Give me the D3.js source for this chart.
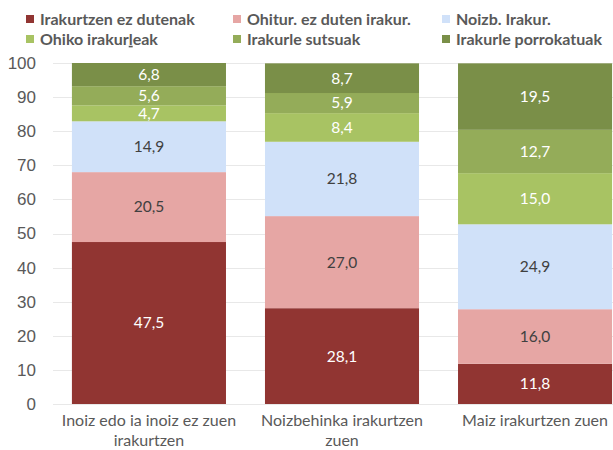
<!DOCTYPE html>
<html>
<head>
<meta charset="utf-8">
<script src="https://cdn.jsdelivr.net/npm/d3@7"></script>
<style>
  body { margin: 0; background: #fff; }
  svg { display: block; }
</style>
</head>
<body>
<svg id="chart" width="613" height="450"></svg>
<script>
// categories (x axis), split into lines as in the original
const categories = ["Inoiz edo ia inoiz ez zuen irakurtzen", "Noizbehinka irakurtzen zuen", "Maiz irakurtzen zuen"];
const categoryLines = [["Inoiz edo ia inoiz ez zuen", "irakurtzen"], ["Noizbehinka irakurtzen", "zuen"], ["Maiz irakurtzen zuen"]];

// series, bottom to top
const seriesNames = ["Irakurtzen ez dutenak", "Ohitur. ez duten irakur.", "Noizb. Irakur.", "Ohiko irakurleak", "Irakurle sutsuak", "Irakurle porrokatuak"];
const irakurtzenEz = [47.5, 28.1, 11.8];
const ohiturEz = [20.5, 27.0, 16.0];
const noizb = [14.9, 21.8, 24.9];
const ohiko = [4.7, 8.4, 15.0];
const sutsuak = [5.6, 5.9, 12.7];
const porrokatuak = [6.8, 8.7, 19.5];

const yTicks = [0, 10, 20, 30, 40, 50, 60, 70, 80, 90, 100];

const colors = ["#913532", "#e6a6a4", "#d0e1f9", "#a8c363", "#94ac59", "#7a8f48"];
const labelColors = ["#fff", "#404040", "#404040", "#fff", "#fff", "#fff"];

const seriesValues = [irakurtzenEz, ohiturEz, noizb, ohiko, sutsuak, porrokatuak];
const table = categories.map((c, i) => {
  const row = { category: c };
  seriesNames.forEach((s, j) => { row[s] = seriesValues[j][i]; });
  return row;
});

const svg = d3.select("#chart");
const W = 613;

const x = d3.scaleBand()
  .domain(categories)
  .range([53, 631])
  .paddingInner(0.202)
  .paddingOuter(0.098);

const y = d3.scaleLinear()
  .domain([0, 100])
  .range([404, 63]);

// gridlines
svg.append("g")
  .selectAll("line")
  .data(yTicks)
  .join("line")
  .attr("x1", 53)
  .attr("x2", W)
  .attr("y1", (d) => Math.round(y(d)) + 0.5)
  .attr("y2", (d) => Math.round(y(d)) + 0.5)
  .attr("stroke", "#e8e8e8")
  .attr("stroke-width", 1);

// y axis labels
const yAxis = svg.append("g")
  .attr("transform", "translate(36,0)")
  .call(d3.axisLeft(y).tickValues(yTicks).tickSize(0).tickPadding(0));
yAxis.select(".domain").remove();
yAxis.selectAll("text")
  .attr("font-family", "'Liberation Sans', Arial, sans-serif")
  .attr("font-size", 17)
  .attr("fill", "#595959");

const stacked = d3.stack().keys(seriesNames)(table);

const layer = svg.append("g")
  .selectAll("g")
  .data(stacked)
  .join("g")
  .attr("fill", (d, i) => colors[i]);

layer.selectAll("rect")
  .data((d) => d)
  .join("rect")
  .attr("x", (d) => x(d.data.category))
  .attr("width", x.bandwidth())
  .attr("y", (d) => y(d[1]))
  .attr("height", (d) => y(d[0]) - y(d[1]));

// value labels
const fmt = (v) => v.toFixed(1).replace(".", ",");
svg.append("g")
  .selectAll("g")
  .data(stacked)
  .join("g")
  .attr("fill", (d, i) => labelColors[i])
  .selectAll("text")
  .data((d) => d.map((p) => ({ p, key: d.key })))
  .join("text")
  .attr("x", (d) => x(d.p.data.category) + x.bandwidth() / 2)
  .attr("y", (d) => (y(d.p[0]) + y(d.p[1])) / 2)
  .attr("dy", "0.35em")
  .attr("text-anchor", "middle")
  .attr("font-family", "Lato, 'Open Sans', sans-serif")
  .attr("font-size", 15.5)
  .text((d) => fmt(d.p.data[d.key]));

// category labels
const cat = svg.append("g")
  .selectAll("text")
  .data(categories)
  .join("text")
  .attr("x", (d) => x(d) + x.bandwidth() / 2)
  .attr("y", 426)
  .attr("text-anchor", "middle")
  .attr("font-family", "Lato, 'Open Sans', sans-serif")
  .attr("font-size", 16)
  .attr("fill", "#595959");
cat.selectAll("tspan")
  .data((d, i) => categoryLines[i])
  .join("tspan")
  .attr("x", function () { return d3.select(this.parentNode).attr("x"); })
  .attr("dy", (d, i) => (i === 0 ? 0 : 20))
  .text((d) => d);

// legend: 3 columns x 2 rows
const legendX = [26, 233, 442];
const legendY = [19, 39];
const legend = svg.append("g")
  .selectAll("g")
  .data(seriesNames)
  .join("g")
  .attr("transform", (d, i) => `translate(${legendX[i % 3]},${legendY[Math.floor(i / 3)]})`);

legend.append("rect")
  .attr("x", 0)
  .attr("y", -4)
  .attr("width", 8)
  .attr("height", 8)
  .attr("fill", (d, i) => colors[i]);

const legendText = legend.append("text")
  .attr("x", 14)
  .attr("y", 0)
  .attr("dy", "0.36em")
  .attr("font-family", "Lato, 'Open Sans', sans-serif")
  .attr("font-weight", 700)
  .attr("font-size", 16)
  .attr("fill", "#595959");

legendText.each(function (d) {
  const t = d3.select(this);
  if (d === "Ohiko irakurleak") {
    // underlined "l" as in the original
    t.append("tspan").text("Ohiko irakur");
    t.append("tspan").attr("text-decoration", "underline").text("l");
    t.append("tspan").text("eak");
  } else {
    t.text(d);
  }
});
</script>
</body>
</html>
